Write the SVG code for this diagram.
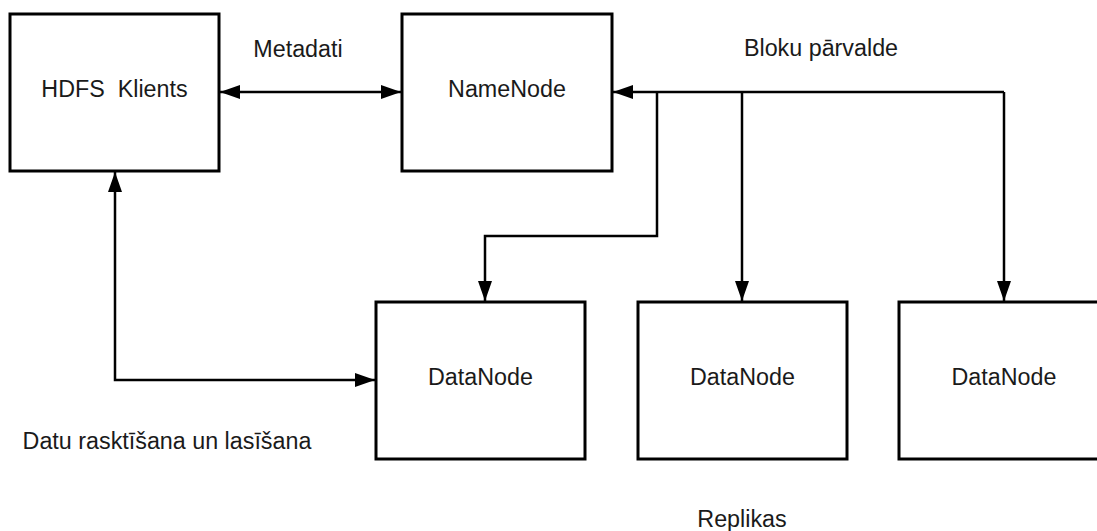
<svg xmlns="http://www.w3.org/2000/svg" width="1097" height="531" viewBox="0 0 1097 531">
  <style>
    .box { fill: #ffffff; stroke: #000000; stroke-width: 3; }
    .wire { fill: none; stroke: #000000; stroke-width: 2.5; }
    .lbl { font-family: "Liberation Sans", Arial, sans-serif; font-size: 23.3px; fill: #1a1a1a; text-anchor: middle; white-space: pre; }
  </style>
  <defs>
    <marker id="arrow" viewBox="0 0 20 14" refX="20" refY="7" markerWidth="20" markerHeight="14" markerUnits="userSpaceOnUse" orient="auto-start-reverse">
      <path d="M0,0 L20,7 L0,14 Z" fill="#000000"/>
    </marker>
  </defs>

  <rect width="1097" height="531" fill="#ffffff"/>

  <g id="connectors">
    <!-- client <-> namenode metadata -->
    <line class="wire" x1="220" y1="92" x2="401" y2="92" marker-start="url(#arrow)" marker-end="url(#arrow)"/>
    <!-- block management bus into namenode -->
    <path class="wire" d="M1004,92 L613,92" marker-end="url(#arrow)"/>
    <!-- bus branches to datanodes -->
    <path class="wire" d="M657,92 L657,236 L485,236 L485,301" marker-end="url(#arrow)"/>
    <path class="wire" d="M742,92 L742,301" marker-end="url(#arrow)"/>
    <path class="wire" d="M1004,92 L1004,301" marker-end="url(#arrow)"/>
    <!-- client <-> datanode read/write -->
    <path class="wire" d="M375,380 L115,380 L115,172" marker-start="url(#arrow)" marker-end="url(#arrow)"/>
  </g>

  <g id="hdfs-client">
    <rect class="box" x="10" y="14" width="209" height="157"/>
    <text class="lbl" x="114.5" y="97" xml:space="preserve">HDFS  Klients</text>
  </g>

  <g id="namenode">
    <rect class="box" x="402" y="14" width="210" height="157"/>
    <text class="lbl" x="507" y="97">NameNode</text>
  </g>

  <g id="datanode-1">
    <rect class="box" x="376" y="302" width="209" height="157"/>
    <text class="lbl" x="480.5" y="385">DataNode</text>
  </g>

  <g id="datanode-2">
    <rect class="box" x="638" y="302" width="209" height="157"/>
    <text class="lbl" x="742.5" y="385">DataNode</text>
  </g>

  <g id="datanode-3">
    <rect class="box" x="899" y="302" width="210" height="157"/>
    <text class="lbl" x="1004" y="385">DataNode</text>
  </g>

  <g id="labels">
    <text class="lbl" x="298" y="57">Metadati</text>
    <text class="lbl" x="821" y="56">Bloku pārvalde</text>
    <text class="lbl" x="167" y="449">Datu rasktīšana un lasīšana</text>
    <text class="lbl" x="742" y="527">Replikas</text>
  </g>
</svg>
